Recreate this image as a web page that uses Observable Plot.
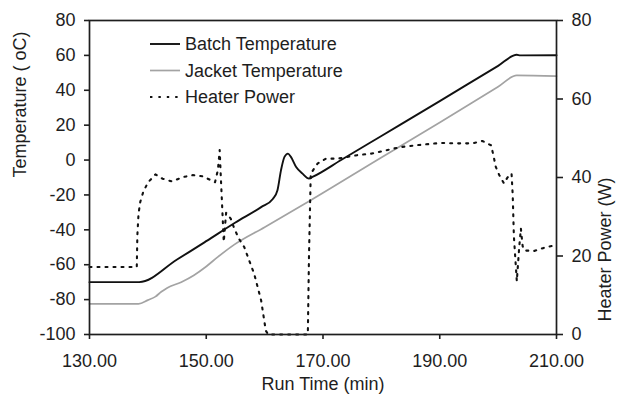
<!DOCTYPE html>
<html>
<head>
<meta charset="utf-8">
<script src="https://cdn.jsdelivr.net/npm/d3@7"></script>
<script src="https://cdn.jsdelivr.net/npm/@observablehq/plot@0.6"></script>
<style>
  html, body { margin: 0; padding: 0; background: #fff; }
  #chart { width: 617px; height: 400px; }
  #chart svg { font-family: "Liberation Sans", Arial, sans-serif; }
</style>
</head>
<body>
<div id="chart"></div>
<script>
// Batch temperature (°C) against run time (min)
const batchTime = [130, 138.5, 145, 150, 155, 159.4, 161.4, 162.2, 162.8, 163.4, 164.0, 164.5, 165.4, 166.5, 167.6, 168.2, 173.1, 180, 190, 200, 203.2, 203.8, 210];
const batchTemp = [-70, -70, -57, -46.5, -35.8, -27, -22.3, -17.3, -5.9, 1.8, 3.7, 1.8, -4, -7.8, -10.6, -9.7, 0, 13.8, 33.8, 54, 60.4, 60, 60.1];

// Jacket temperature (°C)
const jacketTime = [130, 138.4, 140, 141.3, 142.3, 143.3, 145.7, 147.9, 150, 152, 154.8, 160, 167.9, 180, 190, 200, 203.2, 210];
const jacketTemp = [-82.4, -82.4, -80.3, -78.3, -75.5, -73.3, -70, -66, -61, -55.5, -48.5, -38.5, -23, 1.5, 21.5, 42, 48.5, 48.1];

// Heater power (W)
const heaterTime = [130, 138.1, 138.2, 138.4, 138.7, 139.2, 140.0, 141.3, 142.5, 144.1, 146.0, 147.7, 149.4, 150.8, 151.5, 152.0, 152.3, 152.5, 152.7, 153.0, 153.4, 154.2, 154.8, 155.6, 156.5, 158.2, 159.4, 160.2, 160.6, 167.4, 167.6, 167.9, 169.1, 170.5, 172.5, 175.9, 178.4, 182.2, 183.6, 186.5, 190.2, 193.0, 195.6, 197.3, 198.8, 199.2, 199.6, 200.2, 201.0, 201.6, 202.3, 202.5, 202.7, 203.2, 203.6, 203.9, 204.2, 204.5, 206.2, 207.9, 209.6, 210];
const heaterPower = [17.2, 17.2, 25.3, 30.8, 33.8, 36.3, 38.7, 40.8, 39.7, 39.0, 40.1, 40.6, 40.3, 39.3, 38.8, 41.9, 47.0, 40.0, 33.5, 23.6, 31.0, 29.5, 27.0, 24.4, 22.3, 15.5, 8.7, 1.0, 0, 0, 20, 41.0, 43.6, 44.8, 44.8, 45.7, 46.1, 47.4, 47.8, 48.3, 48.8, 48.7, 48.7, 49.3, 48.2, 45.6, 42.7, 40.6, 38.5, 40.0, 41.0, 35.5, 25, 13.6, 22, 27.0, 22.5, 21.4, 21.3, 22.1, 22.7, 22.8];

// Axis ticks and labels
const timeTicks = [130, 150, 170, 190, 210];
const tempTicks = [-100, -80, -60, -40, -20, 0, 20, 40, 60, 80];
const powerTicks = [0, 20, 40, 60, 80];
const seriesNames = ["Batch Temperature", "Jacket Temperature", "Heater Power"];
const xLabel = "Run Time (min)";
const yLabel = "Temperature ( oC)";
const y2Label = "Heater Power (W)";

// The power axis shares the temperature scale: 0–80 W spans −100–80 °C
const tempDomain = [-100, 80];
const powerDomain = [0, 80];
const toTemp = w => tempDomain[0] + (w - powerDomain[0]) * (tempDomain[1] - tempDomain[0]) / (powerDomain[1] - powerDomain[0]);
const fromTemp = t => powerDomain[0] + (t - tempDomain[0]) * (powerDomain[1] - powerDomain[0]) / (tempDomain[1] - tempDomain[0]);

const batch = batchTime.map((t, i) => ({time: t, value: batchTemp[i]}));
const jacket = jacketTime.map((t, i) => ({time: t, value: jacketTemp[i]}));
const heater = heaterTime.map((t, i) => ({time: t, power: heaterPower[i]}));

const ink = "#1e1e1e";
const styles = [
  {stroke: "#111", strokeWidth: 1.9, dash: null},
  {stroke: "#a3a3a3", strokeWidth: 1.7, dash: null},
  {stroke: "#111", strokeWidth: 2.1, dash: "2,6"}
];

const chart = Plot.plot({
  width: 617,
  height: 400,
  marginLeft: 89,
  marginRight: 61,
  marginTop: 20,
  marginBottom: 66,
  style: {fontFamily: "'Liberation Sans', Arial, sans-serif", fontSize: "18px", color: ink, background: "#fff"},
  x: {domain: [130, 210]},
  y: {domain: tempDomain},
  marks: [
    Plot.line(jacket, {x: "time", y: "value", stroke: styles[1].stroke, strokeWidth: styles[1].strokeWidth, curve: "monotone-x"}),
    Plot.line(heater, {x: "time", y: d => toTemp(d.power), stroke: styles[2].stroke, strokeWidth: styles[2].strokeWidth, strokeDasharray: styles[2].dash}),
    Plot.line(batch, {x: "time", y: "value", stroke: styles[0].stroke, strokeWidth: styles[0].strokeWidth, curve: "monotone-x"}),
    Plot.frame({stroke: ink, strokeWidth: 1.7}),
    Plot.axisX(timeTicks, {anchor: "bottom", tickSize: 5, tickPadding: 15, strokeWidth: 1.6, tickFormat: d => d.toFixed(2), label: null}),
    Plot.axisY(tempTicks, {anchor: "left", tickSize: 5, tickPadding: 9, strokeWidth: 1.6, tickFormat: d => String(d), label: null}),
    Plot.axisY(powerTicks.map(toTemp), {anchor: "right", tickSize: 6, tickPadding: 9, strokeWidth: 1.6, tickFormat: d => String(Math.round(fromTemp(d))), label: null}),
    Plot.text([xLabel], {frameAnchor: "bottom", dy: 55, text: d => d, fill: ink, fontSize: 18}),
    Plot.text([yLabel], {frameAnchor: "left", dx: -69, rotate: -90, text: d => d, fill: ink, fontSize: 18}),
    Plot.text([y2Label], {frameAnchor: "right", dx: 49, rotate: -90, text: d => d, fill: ink, fontSize: 18})
  ]
});

// Legend in the upper left of the plot area
const svg = d3.select(chart);
const legend = svg.append("g").attr("transform", "translate(150,44)");
seriesNames.forEach((name, i) => {
  const row = legend.append("g").attr("transform", `translate(0,${i * 26.5})`);
  row.append("line")
    .attr("x1", 0).attr("x2", 30).attr("y1", 0).attr("y2", 0)
    .attr("stroke", styles[i].stroke)
    .attr("stroke-width", styles[i].strokeWidth)
    .attr("stroke-dasharray", styles[i].dash ? "2.4,6" : null);
  row.append("text")
    .attr("x", 35).attr("y", 0).attr("dy", "0.35em")
    .attr("text-anchor", "start")
    .attr("fill", ink)
    .style("font-size", "18px")
    .text(name);
});

document.getElementById("chart").append(chart);
</script>
</body>
</html>
